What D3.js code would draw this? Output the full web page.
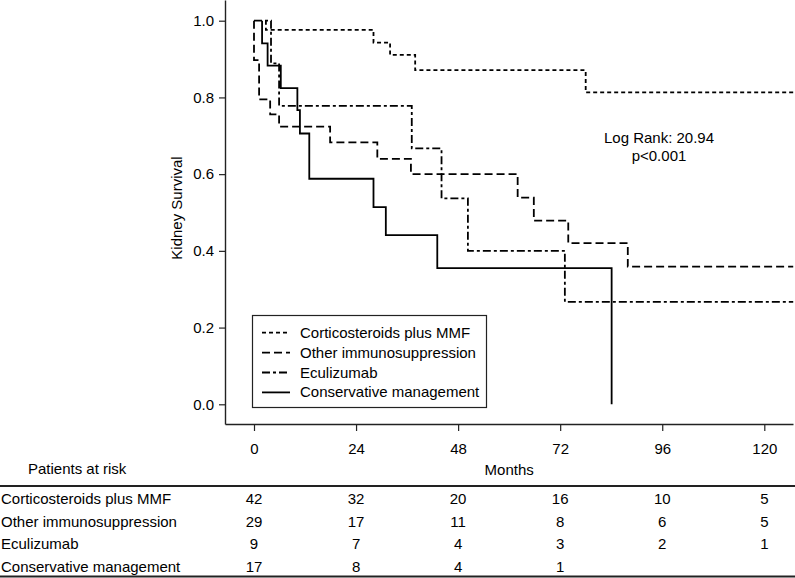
<!DOCTYPE html>
<html>
<head>
<meta charset="utf-8">
<script src="https://cdn.jsdelivr.net/npm/d3@7"></script>
<style>
  html, body { margin: 0; padding: 0; background: #fff; }
  svg { display: block; }
  text { font-family: "Liberation Sans", Arial, Helvetica, sans-serif; fill: #000; }
</style>
</head>
<body>
<svg id="chart" width="795" height="578"></svg>
<script>
// ---------- data ----------
const monthTicks = [0, 24, 48, 72, 96, 120];
const survivalTicks = [0.0, 0.2, 0.4, 0.6, 0.8, 1.0];
const groups = ["Corticosteroids plus MMF", "Other immunosuppression", "Eculizumab", "Conservative management"];

const corticoTime = [2.8, 2.8, 28.1, 32.0, 37.9, 78.0, 126.8];
const corticoSurv = [1.0, 0.976, 0.943, 0.911, 0.871, 0.813, 0.813];

const otherTime = [0, 0, 1.2, 3.8, 5.9, 17.9, 29.0, 36.9, 62.0, 65.8, 73.9, 87.9, 126.8];
const otherSurv = [1.0, 0.897, 0.795, 0.756, 0.724, 0.683, 0.640, 0.600, 0.539, 0.479, 0.420, 0.359, 0.359];

const eculizumabTime = [0, 4.0, 5.9, 37.1, 44.1, 50.3, 73.1, 126.8];
const eculizumabSurv = [1.0, 0.889, 0.778, 0.667, 0.537, 0.400, 0.267, 0.267];

const conservativeTime = [1.9, 1.9, 3.2, 6.3, 10.2, 10.8, 13.0, 28.1, 31.0, 43.1, 84.1];
const conservativeSurv = [1.0, 0.941, 0.883, 0.824, 0.767, 0.706, 0.588, 0.514, 0.441, 0.355, 0.0];

const riskCortico = [42, 32, 20, 16, 10, 5];
const riskOther = [29, 17, 11, 8, 6, 5];
const riskEculizumab = [9, 7, 4, 3, 2, 1];
const riskConservative = [17, 8, 4, 1];

const logRankText = ["Log Rank: 20.94", "p<0.001"];

// ---------- layout ----------
const svg = d3.select("#chart");
const FS = 15;
const axisLeftX = 225, axisBottomY = 424, plotRight = 793;
const pxPerMonth = (764.3 - 254) / 120;
const x0px = 254;

const x = d3.scaleLinear()
  .domain([(axisLeftX - x0px) / pxPerMonth, (plotRight - x0px) / pxPerMonth])
  .range([axisLeftX, plotRight]);
const yPxPerUnit = 404.3 - 20.7;
const y = d3.scaleLinear()
  .domain([-(axisBottomY - 404.3) / yPxPerUnit, 1 + 20.7 / yPxPerUnit])
  .range([axisBottomY, 0]);

// axes
const gy = svg.append("g").attr("transform", `translate(${axisLeftX},0)`)
  .call(d3.axisLeft(y).tickValues(survivalTicks).tickFormat(d3.format(".1f"))
    .tickSize(6).tickPadding(5).tickSizeOuter(0));
const gx = svg.append("g").attr("transform", `translate(0,${axisBottomY})`)
  .call(d3.axisBottom(x).tickValues(monthTicks).tickFormat(d3.format("d"))
    .tickSize(7).tickPadding(12).tickSizeOuter(0));
[gx, gy].forEach(g => {
  g.selectAll("path.domain").attr("stroke", "#222").attr("stroke-width", 1.4);
  g.selectAll(".tick line").attr("stroke", "#222").attr("stroke-width", 1.2);
  g.selectAll(".tick text").style("font-size", FS + "px")
    .style("font-family", '"Liberation Sans", Arial, sans-serif').attr("fill", "#000");
});

svg.append("text")
  .attr("transform", `translate(182,208) rotate(-90)`)
  .attr("text-anchor", "middle")
  .style("font-size", "15px")
  .text("Kidney Survival");

// curves
const series = [
  { name: groups[0], t: corticoTime, s: corticoSurv, dash: "4,3" },
  { name: groups[1], t: otherTime, s: otherSurv, dash: "8,4" },
  { name: groups[2], t: eculizumabTime, s: eculizumabSurv, dash: "8,3,3,3" },
  { name: groups[3], t: conservativeTime, s: conservativeSurv, dash: null }
];
const line = d3.line().curve(d3.curveStepAfter).x(d => x(d[0])).y(d => y(d[1]));
series.forEach(sr => {
  const pts = sr.t.map((t, i) => [t, sr.s[i]]);
  svg.append("path").attr("d", line(pts))
    .attr("fill", "none").attr("stroke", "#000").attr("stroke-width", 1.8)
    .attr("stroke-dasharray", sr.dash);
});

// log rank text
logRankText.forEach((tx, i) => {
  svg.append("text").attr("x", 659).attr("y", 143 + i * 18)
    .attr("text-anchor", "middle").style("font-size", FS + "px").text(tx);
});

// legend
const lg = svg.append("g");
lg.append("rect").attr("x", 252.5).attr("y", 315.5).attr("width", 234).attr("height", 92)
  .attr("fill", "#fff").attr("stroke", "#222").attr("stroke-width", 1.2);
series.forEach((sr, i) => {
  const cy = 332.7 + i * 19.9;
  lg.append("line").attr("x1", 262).attr("x2", 290).attr("y1", cy).attr("y2", cy)
    .attr("stroke", "#000").attr("stroke-width", 1.8).attr("stroke-dasharray", sr.dash);
  lg.append("text").attr("x", 300).attr("y", cy + 5).style("font-size", FS + "px").text(sr.name);
});

// risk table
svg.append("text").attr("x", 28).attr("y", 474).style("font-size", FS + "px").text("Patients at risk");
svg.append("text").attr("x", x(60)).attr("y", 475).attr("text-anchor", "middle")
  .style("font-size", FS + "px").text("Months");
svg.append("line").attr("x1", 0).attr("x2", 795).attr("y1", 486).attr("y2", 486)
  .attr("stroke", "#222").attr("stroke-width", 1.8);
svg.append("line").attr("x1", 0).attr("x2", 795).attr("y1", 576.5).attr("y2", 576.5)
  .attr("stroke", "#222").attr("stroke-width", 1.8);
const riskRows = [riskCortico, riskOther, riskEculizumab, riskConservative];
riskRows.forEach((row, i) => {
  const by = 504 + i * 22.5;
  svg.append("text").attr("x", 1).attr("y", by).style("font-size", FS + "px").text(groups[i]);
  row.forEach((v, j) => {
    svg.append("text").attr("x", x(monthTicks[j])).attr("y", by).attr("text-anchor", "middle")
      .style("font-size", FS + "px").text(v);
  });
});
</script>
</body>
</html>
